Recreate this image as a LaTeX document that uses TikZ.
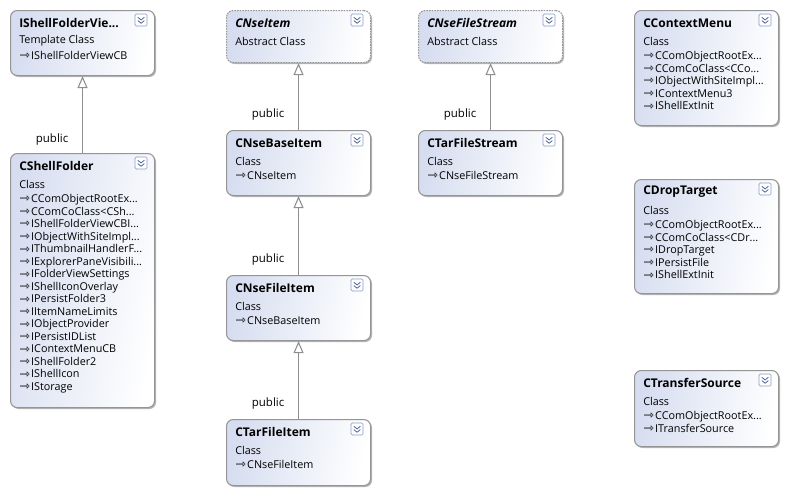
\documentclass[tikz,border=0pt]{standalone}
\usepackage{fontspec}
\setmainfont{Open Sans}
\newfontfamily\arrowfont{DejaVu Sans}
\usetikzlibrary{arrows.meta,shadows,calc}
\definecolor{bordergray}{HTML}{959595}
\definecolor{boxblue}{HTML}{D6DDF0}
\definecolor{linegray}{HTML}{8E8E8E}
\definecolor{iconblue}{HTML}{4F6496}
\definecolor{iconborder}{HTML}{8A9CC4}
\newcommand\inh{{\arrowfont\fontsize{9.5}{9}\selectfont\raisebox{-0.3pt}{⇾}}\hspace{1pt}}
\tikzset{
  classbox/.style={draw=bordergray, line width=0.8pt, rounded corners=5pt,
    left color=boxblue, right color=white, shading angle=80,
    drop shadow={shadow xshift=1.1pt, shadow yshift=-1.1pt, opacity=0.45, fill=black!65},
    minimum width=108pt, anchor=north west, inner sep=0pt},
  abstractbox/.style={dash pattern=on 1.2pt off 0.8pt},
  titletxt/.style={anchor=west, inner sep=0pt, font=\fontsize{9}{10}\selectfont\bfseries},
  subtxt/.style={anchor=west, inner sep=0pt, font=\fontsize{8.1}{9}\selectfont},
  memtxt/.style={anchor=north west, inner sep=0pt, align=left, font=\fontsize{8.1}{9.4}\selectfont},
  lbl/.style={anchor=east, inner sep=0pt, font=\fontsize{8.6}{10}\selectfont},
  inhline/.style={draw=linegray, line width=0.8pt, -{Triangle[length=9pt, width=7.5pt, fill=white]}},
  iconbox/.style={draw=iconborder, fill=white, line width=0.5pt, rounded corners=1pt},
  chev/.style={draw=iconblue, line width=0.6pt}
}
% #1 extra style, #2 name, #3 x, #4 y, #5 height (px), #6 title, #7 stereotype, #8 members
\newcommand\umlclass[8]{%
  \node[classbox,#1,minimum height=#5*0.75pt] (#2) at (#3,#4) {};
  \node[titletxt] (#2-t) at ($(#2.north west)+(9,13)$) {#6};
  \node[subtxt] (#2-s) at ($(#2.north west)+(9,31)$) {#7};
  \node[memtxt] (#2-m) at ($(#2.north west)+(9,41)$) {#8};
  \draw[iconbox] ($(#2.north east)+(-20,4)$) rectangle ++(12,12);
  \draw[chev] ($(#2.north east)+(-17.3,7.3)$) -- ++(3.3,2.6) -- ++(3.3,-2.6);
  \draw[chev] ($(#2.north east)+(-17.3,10.6)$) -- ++(3.3,2.6) -- ++(3.3,-2.6);
}
\begin{document}
\begin{tikzpicture}[x=0.75pt,y=-0.75pt]
\useasboundingbox[fill=white] (0,0) rectangle (787,493);

\umlclass{}{isfv}{10}{10}{65}{IShellFolderVie...}{Template Class}{\inh IShellFolderViewCB}
\umlclass{}{csf}{10}{153}{254}{CShellFolder}{Class}{%
\inh CComObjectRootEx...\\
\inh CComCoClass<CSh...\\
\inh IShellFolderViewCBI...\\
\inh IObjectWithSiteImpl...\\
\inh IThumbnailHandlerF...\\
\inh IExplorerPaneVisibili...\\
\inh IFolderViewSettings\\
\inh IShellIconOverlay\\
\inh IPersistFolder3\\
\inh IItemNameLimits\\
\inh IObjectProvider\\
\inh IPersistIDList\\
\inh IContextMenuCB\\
\inh IShellFolder2\\
\inh IShellIcon\\
\inh IStorage}
\umlclass{abstractbox}{cni}{226}{10}{52}{\itshape CNseItem}{Abstract Class}{}
\umlclass{}{cnbi}{226}{130}{65}{CNseBaseItem}{Class}{\inh CNseItem}
\umlclass{}{cnfi}{226}{275}{65}{CNseFileItem}{Class}{\inh CNseBaseItem}
\umlclass{}{ctfi}{226}{419}{66}{CTarFileItem}{Class}{\inh CNseFileItem}
\umlclass{abstractbox}{cnfs}{418}{10}{52}{\itshape CNseFileStream}{Abstract Class}{}
\umlclass{}{ctfs}{418}{130}{65}{CTarFileStream}{Class}{\inh CNseFileStream}
\umlclass{}{ccm}{634}{10}{115}{CContextMenu}{Class}{%
\inh CComObjectRootEx...\\
\inh CComCoClass<CCo...\\
\inh IObjectWithSiteImpl...\\
\inh IContextMenu3\\
\inh IShellExtInit}
\umlclass{}{cdt}{634}{179}{114}{CDropTarget}{Class}{%
\inh CComObjectRootEx...\\
\inh CComCoClass<CDr...\\
\inh IDropTarget\\
\inh IPersistFile\\
\inh IShellExtInit}
\umlclass{}{cts}{634}{370}{76}{CTransferSource}{Class}{%
\inh CComObjectRootEx...\\
\inh ITransferSource}

\draw[inhline] (csf.north) -- (isfv.south);
\draw[inhline] (cnbi.north) -- (cni.south);
\draw[inhline] (cnfi.north) -- (cnbi.south);
\draw[inhline] (ctfi.north) -- (cnfi.south);
\draw[inhline] (ctfs.north) -- (cnfs.south);

\node[lbl] (l1) at ($(csf.north)+(-14,-13)$) {public};
\node[lbl] (l2) at ($(cnbi.north)+(-14,-15)$) {public};
\node[lbl] (l3) at ($(cnfi.north)+(-14,-15)$) {public};
\node[lbl] (l4) at ($(ctfi.north)+(-14,-15)$) {public};
\node[lbl] (l5) at ($(ctfs.north)+(-14,-15)$) {public};
\end{tikzpicture}
\end{document}
